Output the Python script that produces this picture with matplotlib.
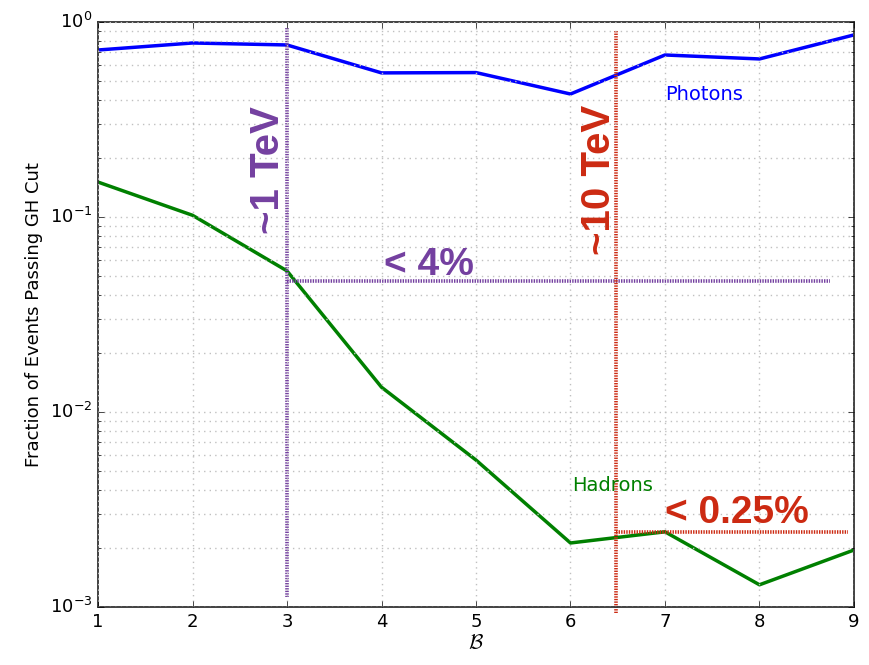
import matplotlib
matplotlib.use("Agg")
import matplotlib.pyplot as plt
import numpy as np

plt.style.use("classic")

b_values = [1, 2, 3, 4, 5, 6, 7, 8, 9]
photons = [0.718, 0.78, 0.762, 0.548, 0.55, 0.427, 0.677, 0.646, 0.858]
hadrons = [0.151, 0.102, 0.0529, 0.0134, 0.00567, 0.00213, 0.00243, 0.0013, 0.00196]

tev1_x = 3.0
tev10_x = 6.48
cut4_y = 0.0468
cut4_xend = 8.75
cut025_y = 0.00243
cut025_xend = 8.94

purple = "#7440A0"
red = "#CC2A12"

fig = plt.figure(figsize=(8.69, 6.65), dpi=100, facecolor="white")
ax = fig.add_axes([0.1128, 0.0872, 0.8699, 0.8798])
ax.set_facecolor("white")

ax.plot(b_values, photons, color="blue", lw=2.5)
ax.plot(b_values, hadrons, color="green", lw=2.5)

ax.set_yscale("log")
ax.set_xlim(1, 9)
ax.set_ylim(1e-3, 1)
ax.grid(True, which="both", color="#c0c0c0", ls=(0, (1, 3)), lw=1)
ax.tick_params(labelsize=13)
for s in ax.spines.values():
    s.set_color("#333333")
    s.set_linewidth(1.3)
ax.set_ylabel("Fraction of Events Passing GH Cut", fontsize=13)
ax.set_xlabel(r"$\mathcal{B}$", fontsize=15, labelpad=2)

# annotation lines
dots = (0, (1, 0.85))
lw_d = 2.6
ax.plot([tev1_x, tev1_x], [0.93, 1.12e-3], color=purple, ls=dots, lw=lw_d)
ax.plot([tev1_x, cut4_xend], [cut4_y, cut4_y], color=purple, ls=dots, lw=lw_d)
ax.plot([tev10_x, tev10_x], [0.9, 0.93e-3], color=red, ls=dots, lw=lw_d, clip_on=False)
ax.plot([tev10_x, cut025_xend], [cut025_y, cut025_y], color=red, ls=dots, lw=lw_d)

bold = dict(family="Liberation Sans", fontweight="bold")
ax.text(2.80, 0.175, "~1 TeV", rotation=90, color=purple, fontsize=29,
        ha="center", va="center", **bold)
ax.text(6.30, 0.155, "~10 TeV", rotation=90, color=red, fontsize=29,
        ha="center", va="center", **bold)
ax.text(4.03, 0.057, "< 4%", color=purple, fontsize=28, ha="left", va="center", **bold)
ax.text(7.0, 0.00305, "< 0.25%", color=red, fontsize=28, ha="left", va="center", **bold)
ax.text(7.0, 0.425, "Photons", color="blue", fontsize=14, ha="left", va="center")
ax.text(6.02, 0.0042, "Hadrons", color="green", fontsize=14, ha="left", va="center")

fig.savefig("out.png", dpi=100, facecolor="white")
